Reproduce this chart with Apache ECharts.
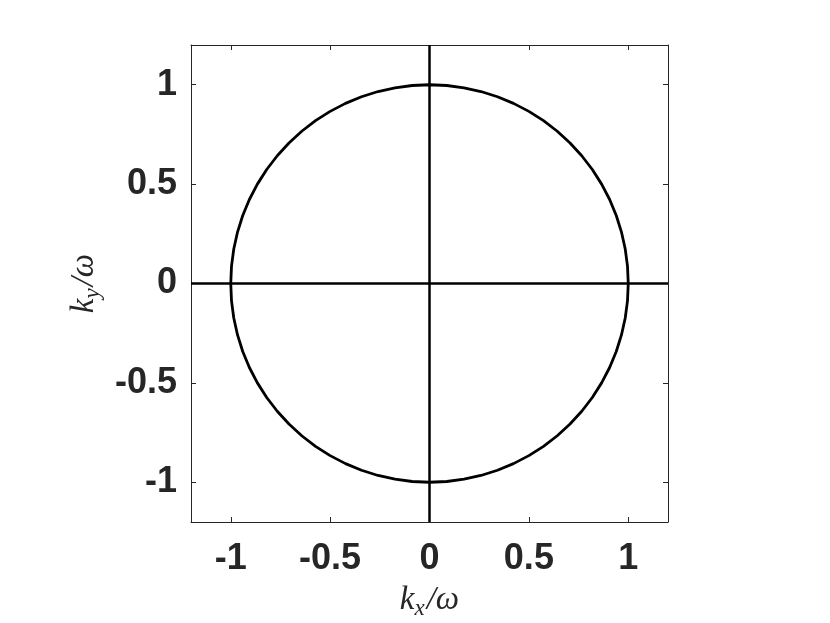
<!DOCTYPE html>
<html>
<head>
<meta charset="utf-8">
<script src="https://cdn.jsdelivr.net/npm/echarts@6/dist/echarts.min.js"></script>
<style>
  html, body { margin: 0; padding: 0; background: #fff; }
  #chart { width: 830px; height: 623px; }
</style>
</head>
<body>
<div id="chart"></div>
<script>
// unit circle, read every 5 degrees
const circleKx = [1, 0.9962, 0.9848, 0.9659, 0.9397, 0.9063, 0.8660, 0.8192, 0.7660, 0.7071, 0.6428, 0.5736,
  0.5, 0.4226, 0.3420, 0.2588, 0.1736, 0.0872, 0,
  -0.0872, -0.1736, -0.2588, -0.3420, -0.4226, -0.5, -0.5736, -0.6428, -0.7071, -0.7660, -0.8192,
  -0.8660, -0.9063, -0.9397, -0.9659, -0.9848, -0.9962, -1,
  -0.9962, -0.9848, -0.9659, -0.9397, -0.9063, -0.8660, -0.8192, -0.7660, -0.7071, -0.6428, -0.5736,
  -0.5, -0.4226, -0.3420, -0.2588, -0.1736, -0.0872, 0,
  0.0872, 0.1736, 0.2588, 0.3420, 0.4226, 0.5, 0.5736, 0.6428, 0.7071, 0.7660, 0.8192,
  0.8660, 0.9063, 0.9397, 0.9659, 0.9848, 0.9962, 1];
const circleKy = [0, 0.0872, 0.1736, 0.2588, 0.3420, 0.4226, 0.5, 0.5736, 0.6428, 0.7071, 0.7660, 0.8192,
  0.8660, 0.9063, 0.9397, 0.9659, 0.9848, 0.9962, 1,
  0.9962, 0.9848, 0.9659, 0.9397, 0.9063, 0.8660, 0.8192, 0.7660, 0.7071, 0.6428, 0.5736,
  0.5, 0.4226, 0.3420, 0.2588, 0.1736, 0.0872, 0,
  -0.0872, -0.1736, -0.2588, -0.3420, -0.4226, -0.5, -0.5736, -0.6428, -0.7071, -0.7660, -0.8192,
  -0.8660, -0.9063, -0.9397, -0.9659, -0.9848, -0.9962, -1,
  -0.9962, -0.9848, -0.9659, -0.9397, -0.9063, -0.8660, -0.8192, -0.7660, -0.7071, -0.6428, -0.5736,
  -0.5, -0.4226, -0.3420, -0.2588, -0.1736, -0.0872, 0];
// cross through the origin
const hLineKx = [-1.2, 1.2];
const hLineKy = [0, 0];
const vLineKx = [0, 0];
const vLineKy = [-1.2, 1.2];

const tickValues = [-1, -0.5, 0, 0.5, 1];
const axisMin = -1.2;
const axisMax = 1.2;

const zip = (xs, ys) => xs.map((x, i) => [x, ys[i]]);

const chart = echarts.init(document.getElementById('chart'));

const axisColor = '#262626';
const nameRich = {
  a: { fontFamily: 'Liberation Serif', fontStyle: 'italic', fontSize: 33, color: axisColor, lineHeight: 40, verticalAlign: 'middle' },
  s: { fontFamily: 'Liberation Serif', fontStyle: 'italic', fontSize: 23, color: axisColor, lineHeight: 40, verticalAlign: 'bottom', padding: [0, 2, 0, 0] },
};

const baseAxis = (pos, showLabel, name) => ({
  type: 'value',
  position: pos,
  min: axisMin,
  max: axisMax,
  name: name || '',
  nameLocation: 'middle',
  nameGap: (pos === 'left') ? 83 : 58,
  nameRotate: (pos === 'left') ? 90 : 0,
  nameTextStyle: { rich: nameRich },
  axisLine: { show: true, onZero: false, lineStyle: { color: axisColor, width: 1 } },
  axisTick: { show: true, inside: true, length: 5, customValues: tickValues, lineStyle: { color: axisColor, width: 1 } },
  axisLabel: {
    show: showLabel,
    customValues: tickValues,
    fontFamily: 'Liberation Sans',
    fontWeight: 'bold',
    fontSize: 36,
    color: axisColor,
    margin: (pos === 'left') ? 14 : 19,
    padding: (pos === 'left') ? [5, 0, 0, 0] : 0,
  },
  splitLine: { show: false },
});

const option = {
  animation: false,
  backgroundColor: '#fff',
  grid: { left: 191, top: 45, width: 477, height: 477, containLabel: false, outerBoundsMode: 'none' },
  xAxis: [
    baseAxis('bottom', true, '{a|k}{s|x}{a|/ω}'),
    baseAxis('top', false),
  ],
  yAxis: [
    baseAxis('left', true, '{a|k}{s|y}{a|/ω}'),
    baseAxis('right', false),
  ],
  series: [
    {
      type: 'line',
      data: zip(hLineKx, hLineKy),
      showSymbol: false,
      lineStyle: { color: '#000', width: 2.5 },
    },
    {
      type: 'line',
      data: zip(vLineKx, vLineKy),
      showSymbol: false,
      lineStyle: { color: '#000', width: 2.5 },
    },
    {
      type: 'line',
      data: zip(circleKx, circleKy),
      showSymbol: false,
      lineStyle: { color: '#000', width: 2.8 },
    },
  ],
};

chart.setOption(option);
</script>
</body>
</html>
